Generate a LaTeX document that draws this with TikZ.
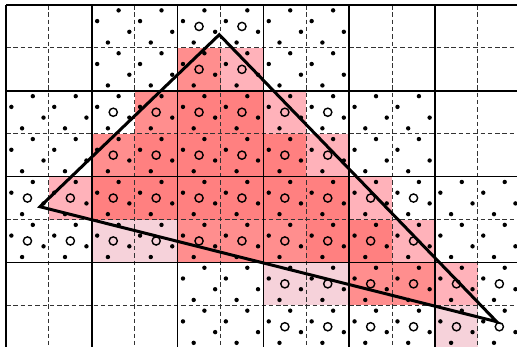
\documentclass[tikz,border=0pt]{standalone}
\usepackage{tikz}
\definecolor{cfour}{RGB}{255,128,128}
\definecolor{cthree}{RGB}{255,142,142}
\definecolor{ctwo}{RGB}{255,178,186}
\definecolor{cone}{RGB}{246,210,218}
\tikzset{
  solidgrid/.style={black, line width=1.6pt},
  dashgrid/.style={black!80, line width=1.1pt, dash pattern=on 4.5pt off 2.8pt},
  sampledot/.style={fill=black},
  centermark/.style={draw=black, line width=1.4pt},
  tri/.style={draw=black, line width=3pt, line join=miter}
}
\begin{document}
\begin{tikzpicture}[x=1pt,y=1pt]
\useasboundingbox (0,0) rectangle (517,-346);
\clip (0,0) rectangle (517,-346);
\fill[white] (0,0) rectangle (517,-346);
\begin{scope}[shift={(6pt,-5pt)}, x=42.9pt, y=-42.9pt]
  % coverage fills
  \foreach \i/\j in {4/2,5/2,3/3,4/3,5/3,6/3,2/4,3/4,4/4,5/4,6/4,7/4,7/5,8/5}
    \fill[cfour] (\i,\j) rectangle ++(1,1);
  \foreach \i/\j in {4/1,3/2,2/3,4/5,5/5,6/5,8/6,9/6}
    \fill[cthree] (\i,\j) rectangle ++(1,1);
  \foreach \i/\j in {5/1,6/2,7/3,1/4,8/4,9/5,10/6}
    \fill[ctwo] (\i,\j) rectangle ++(1,1);
  \foreach \i/\j in {2/5,3/5,6/6,7/6,10/7}
    \fill[cone] (\i,\j) rectangle ++(1,1);
  % grid
  \foreach \k in {1,3,5,7,9,11}
    \draw[dashgrid] (\k,0) -- (\k,8.2);
  \foreach \k in {1,3,5,7}
    \draw[dashgrid] (0,\k) -- (12.2,\k);
  \foreach \k in {0,2,4,6,8,10,12}
    \draw[solidgrid] (\k,0) -- (\k,8.2);
  \foreach \k in {0,2,4,6,8}
    \draw[solidgrid] (0,\k) -- (12.2,\k);
  % sample dots
  \foreach \bi/\bj in {1/0,2/0,3/0,0/1,1/1,2/1,3/1,4/1,0/2,1/2,2/2,3/2,4/2,5/2,2/3,3/3,4/3,5/3}
    \foreach \ci in {0,1}
      \foreach \cj in {0,1}
        \foreach \dx/\dy in {0.625/0.125,0.125/0.375,0.875/0.625,0.375/0.875}
          \fill[sampledot] ({2*\bi+\ci+\dx},{2*\bj+\cj+\dy}) circle[radius=2.2pt];
  % center circles
  \foreach \bi/\bj in {2/0,1/1,2/1,3/1,0/2,1/2,2/2,3/2,4/2,3/3,4/3,5/3}
    \foreach \ci in {0,1}
      \foreach \cj in {0,1}
        \draw[centermark] ({2*\bi+\ci+0.5},{2*\bj+\cj+0.5}) circle[radius=4.1pt];
  % triangle
  \coordinate (T) at (4.972,0.692);
  \coordinate (L) at (0.793,4.702);
  \coordinate (R) at (11.438,7.382);
  \draw[tri] (T) -- (L) -- (R) -- cycle;
\end{scope}
\end{tikzpicture}
\end{document}
